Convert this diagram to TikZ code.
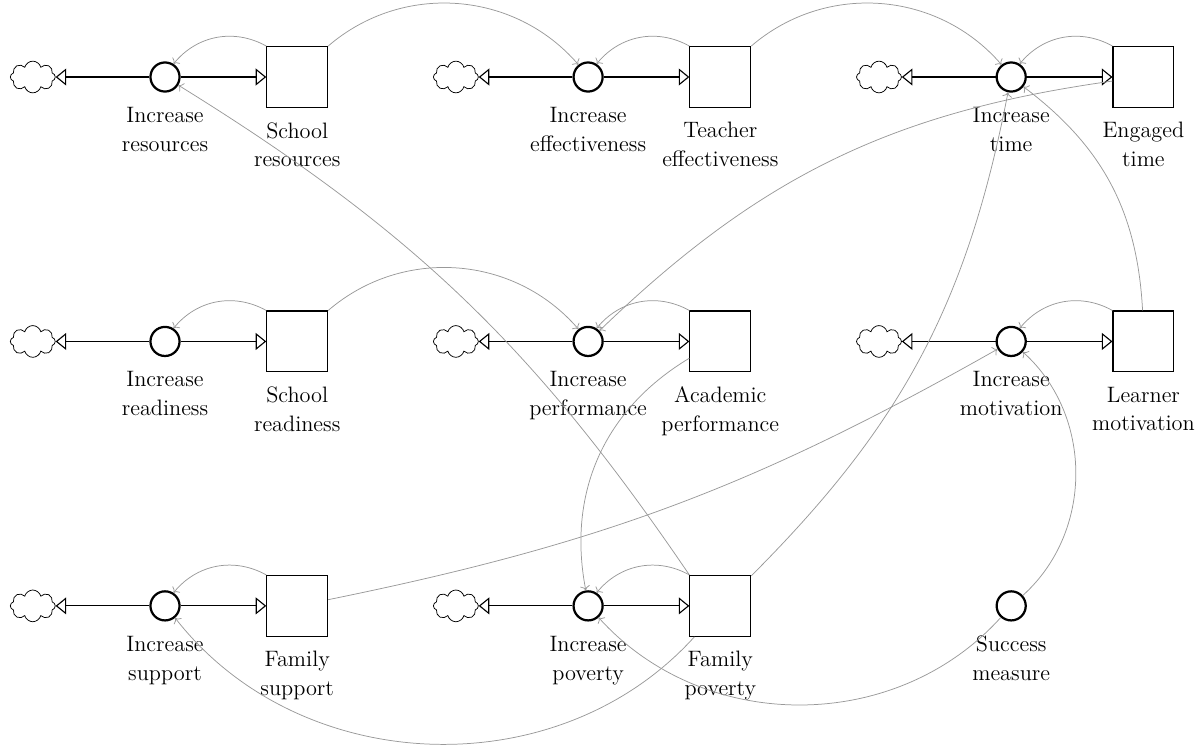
\documentclass[tikz,border=0pt]{standalone}
\usepackage{tikz}
\usetikzlibrary{shapes.symbols,positioning,arrows.meta}

\begin{document}
\begin{tikzpicture}[
stock/.style={rectangle,draw,semithick,minimum size=1.15cm},
valve/.style={circle,draw,very thick,minimum size=0.55cm,inner sep=0pt},
sink/.style={cloud,draw,cloud puffs=8,cloud puff arc=150,cloud ignores aspect,minimum width=0.85cm,minimum height=0.6cm,inner sep=0pt},
flow/.style={semithick,-{Triangle[open,length=0.2cm,width=0.32cm]}},
info/.style={->,black!40,thin},
lbl/.style={align=center,font=\fontsize{12}{15.5}\selectfont}]
\useasboundingbox (-3.12,1.456) rectangle (19.57,-12.74);

% row 1
\node[sink] (c1) at (-2.5,0) {};
\node[valve] (iRes) at (0,0) {};
\node[stock] (Res) at (2.5,0) {};
\node[sink] (c2) at (5.5,0) {};
\node[valve] (iEff) at (8,0) {};
\node[stock] (Eff) at (10.5,0) {};
\node[sink] (c3) at (13.5,0) {};
\node[valve] (iTime) at (16,0) {};
\node[stock] (Time) at (18.5,0) {};
% row 2
\node[sink] (c4) at (-2.5,-5) {};
\node[valve] (iRdy) at (0,-5) {};
\node[stock] (Rdy) at (2.5,-5) {};
\node[sink] (c5) at (5.5,-5) {};
\node[valve] (iPerf) at (8,-5) {};
\node[stock] (Perf) at (10.5,-5) {};
\node[sink] (c6) at (13.5,-5) {};
\node[valve] (iMot) at (16,-5) {};
\node[stock] (Mot) at (18.5,-5) {};
% row 3
\node[sink] (c7) at (-2.5,-10) {};
\node[valve] (iSup) at (0,-10) {};
\node[stock] (Sup) at (2.5,-10) {};
\node[sink] (c8) at (5.5,-10) {};
\node[valve] (iPov) at (8,-10) {};
\node[stock] (Pov) at (10.5,-10) {};
\node[valve] (Succ) at (16,-10) {};

% names
\node[lbl,below=0.15cm of iRes] (liRes) {Increase\\resources};
\node[lbl,below=0.15cm of Res] (lRes) {School\\resources};
\node[lbl,below=0.15cm of iEff] (liEff) {Increase\\effectiveness};
\node[lbl,below=0.15cm of Eff] (lEff) {Teacher\\effectiveness};
\node[lbl,below=0.15cm of iTime] (liTime) {Increase\\time};
\node[lbl,below=0.15cm of Time] (lTime) {Engaged\\time};
\node[lbl,below=0.15cm of iRdy] (liRdy) {Increase\\readiness};
\node[lbl,below=0.15cm of Rdy] (lRdy) {School\\readiness};
\node[lbl,below=0.15cm of iPerf] (liPerf) {Increase\\performance};
\node[lbl,below=0.15cm of Perf] (lPerf) {Academic\\performance};
\node[lbl,below=0.15cm of iMot] (liMot) {Increase\\motivation};
\node[lbl,below=0.15cm of Mot] (lMot) {Learner\\motivation};
\node[lbl,below=0.15cm of iSup] (liSup) {Increase\\support};
\node[lbl,below=0.15cm of Sup] (lSup) {Family\\support};
\node[lbl,below=0.15cm of iPov] (liPov) {Increase\\poverty};
\node[lbl,below=0.15cm of Pov] (lPov) {Family\\poverty};
\node[lbl,below=0.15cm of Succ] (lSucc) {Success\\measure};

% flows
\draw[flow] (iRes) -- (Res);   \draw[flow] (iRes) -- (c1);
\draw[flow] (iEff) -- (Eff);   \draw[flow] (iEff) -- (c2);
\draw[flow] (iTime) -- (Time); \draw[flow] (iTime) -- (c3);
\draw[flow] (iRdy) -- (Rdy);   \draw[flow] (iRdy) -- (c4);
\draw[flow] (iPerf) -- (Perf); \draw[flow] (iPerf) -- (c5);
\draw[flow] (iMot) -- (Mot);   \draw[flow] (iMot) -- (c6);
\draw[flow] (iSup) -- (Sup);   \draw[flow] (iSup) -- (c7);
\draw[flow] (iPov) -- (Pov);   \draw[flow] (iPov) -- (c8);

% information links
\draw[info] (Res.north west) to[bend right=40] (iRes);
\draw[info] (Eff.north west) to[bend right=40] (iEff);
\draw[info] (Time.north west) to[bend right=40] (iTime);
\draw[info] (Rdy.north west) to[bend right=40] (iRdy);
\draw[info] (Perf.north west) to[bend right=40] (iPerf);
\draw[info] (Mot.north west) to[bend right=40] (iMot);
\draw[info] (Sup.north west) to[bend right=40] (iSup);
\draw[info] (Pov.north west) to[bend right=40] (iPov);
\draw[info] (Res.north east) to[bend left=45] (iEff);
\draw[info] (Eff.north east) to[bend left=45] (iTime);
\draw[info] (Rdy.north east) to[bend left=45] (iPerf);
\draw[info] (Pov.north west) to[bend right=12] (iRes);
\draw[info] (Time) to[bend right=18] (iPerf);
\draw[info] (Mot) to[bend right=25] (iTime);
\draw[info] (Perf) to[bend right=35] (iPov);
\draw[info] (Pov) to[bend right=17] (iTime);
\draw[info] (Sup) to[bend right=9] (iMot);
\draw[info] (Pov) to[bend left=50] (iSup);
\draw[info] (Succ) to[bend left=48] (iPov);
\draw[info] (Succ) to[bend right=48] (iMot);
\end{tikzpicture}
\end{document}
